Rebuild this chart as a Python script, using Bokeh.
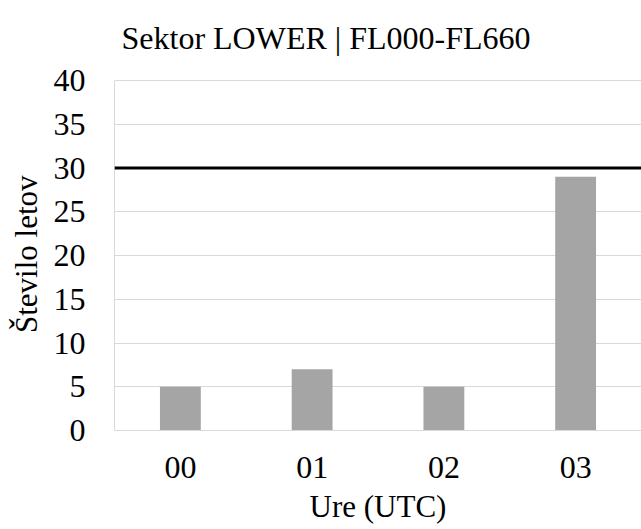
from bokeh.plotting import figure
from bokeh.models import Range1d, FixedTicker, Span, ColumnDataSource, Label
from bokeh.embed import file_html
from bokeh.resources import INLINE

# Flights per hour in sector LOWER
hours = ["00", "01", "02", "03"]
flights = [5, 7, 5, 29]
capacity = 30
y_ticks = [0, 5, 10, 15, 20, 25, 30, 35, 40]
chart_title = "Sektor LOWER | FL000-FL660"

FONT = "Liberation Serif"

# value axis runs 0..40; the frame is extended upwards to hold the title
Y_MAX = 40
FRAME_H = 430
PLOT_H = 350
y_top = Y_MAX * FRAME_H / PLOT_H

# the axis label is centred on the whole frame; trailing no-break spaces
# push the visible text down so it sits in the middle of the 0..40 span
Y_LABEL_PAD = "\u00a0" * 10

source = ColumnDataSource(data=dict(hours=hours, flights=flights))

p = figure(
    x_range=hours,
    y_range=Range1d(0, y_top),
    width=641,
    height=529,
    output_backend="svg",
    toolbar_location=None,
    title=None,
    min_border_left=114,
    min_border_right=0,
    min_border_top=0,
    min_border_bottom=99,
)

p.vbar(x="hours", top="flights", width=0.31, source=source,
       fill_color="#a5a5a5", line_color=None)

p.add_layout(Span(location=capacity, dimension="width",
                  line_color="black", line_width=3))

# chart title above the value area
p.add_layout(Label(x=0, y=Y_MAX, x_offset=7, y_offset=43, text=chart_title,
                   text_font=FONT, text_font_size="32px",
                   text_color="black", text_baseline="alphabetic",
                   text_align="left"))

# grid and frame
p.outline_line_color = None
p.xgrid.grid_line_color = None
p.ygrid.grid_line_color = "#d9d9d9"
p.ygrid.grid_line_width = 1
p.background_fill_color = "white"
p.border_fill_color = "white"

# y axis
p.yaxis.ticker = FixedTicker(ticks=y_ticks)
p.yaxis.bounds = (0, Y_MAX)
p.yaxis.axis_label = "Število letov" + Y_LABEL_PAD
p.yaxis.axis_line_color = "#d9d9d9"
p.yaxis.major_tick_line_color = None
p.yaxis.minor_tick_line_color = None
p.yaxis.major_label_standoff = 23
p.yaxis.axis_label_standoff = 7

# x axis
p.xaxis.axis_label = "Ure (UTC)"
p.xaxis.axis_line_color = "#d9d9d9"
p.xaxis.major_tick_line_color = None
p.xaxis.minor_tick_line_color = None
p.xaxis.major_label_standoff = 20
p.xaxis.axis_label_standoff = 8

for ax in (p.xaxis, p.yaxis):
    ax.major_label_text_font = FONT
    ax.major_label_text_font_size = "32px"
    ax.major_label_text_color = "black"
    ax.axis_label_text_font = FONT
    ax.axis_label_text_font_size = "31px"
    ax.axis_label_text_font_style = "normal"
    ax.axis_label_text_color = "black"

p.x_range.range_padding = 0.0

open("out.html", "w").write(file_html(p, INLINE))
